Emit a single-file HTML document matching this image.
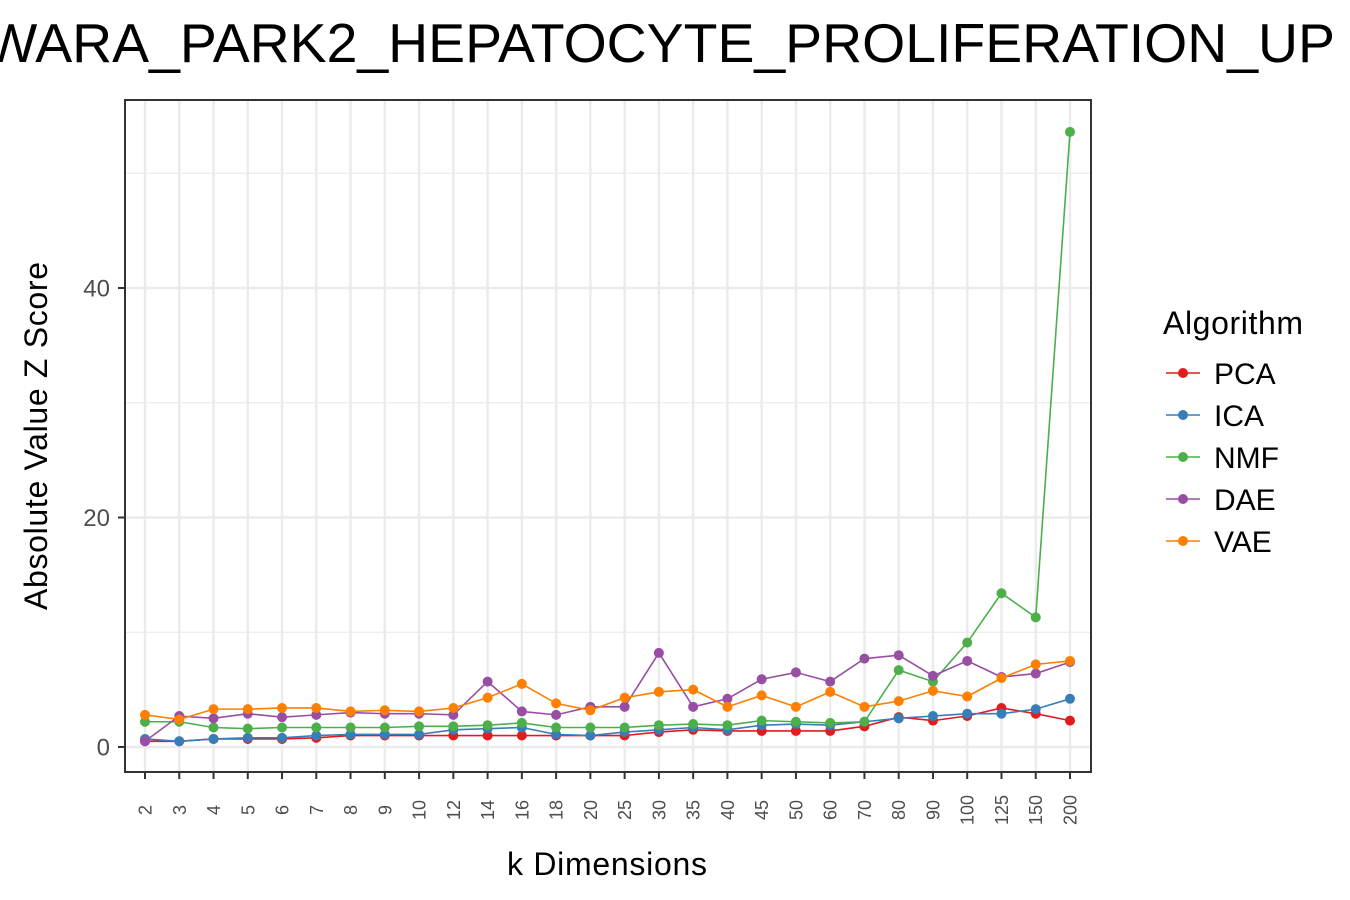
<!DOCTYPE html>
<html><head><meta charset="utf-8"><style>
html,body{margin:0;padding:0;background:#fff;overflow:hidden;}
svg{display:block;font-family:"Liberation Sans",Arial,sans-serif;}
</style></head><body>
<svg id="chart" width="1350" height="900">
<text x="660" y="62" text-anchor="middle" font-size="55" textLength="1350" lengthAdjust="spacingAndGlyphs" fill="#000">WARA_PARK2_HEPATOCYTE_PROLIFERATION_UP</text>
<g id="grid"></g>
<g id="series"></g>
<rect x="125" y="100" width="966" height="672" fill="none" stroke="#333" stroke-width="2"/>
<g id="axes"></g>
<text x="607" y="875" text-anchor="middle" font-size="32" textLength="200" fill="#000">k Dimensions</text>
<text transform="translate(47,436) rotate(-90)" text-anchor="middle" font-size="32" textLength="348" fill="#000">Absolute Value Z Score</text>
<g id="legend">
<text x="1163" y="334" font-size="32" textLength="140" fill="#000">Algorithm</text>
</g>
</svg>
<script>
const categories=["2","3","4","5","6","7","8","9","10","12","14","16","18","20","25","30","35","40","45","50","60","70","80","90","100","125","150","200"];
const yTicks=[0,20,40];
const seriesNames=["PCA","ICA","NMF","DAE","VAE"];
const seriesColors=["#e41a1c","#377eb8","#4daf4a","#984ea3","#ff7f00"];
const pcaValues=[0.5,0.5,0.7,0.7,0.7,0.8,1.0,1.0,1.0,1.0,1.0,1.0,1.0,1.0,1.0,1.3,1.5,1.4,1.4,1.4,1.4,1.8,2.6,2.3,2.7,3.4,2.9,2.3];
const icaValues=[0.7,0.5,0.7,0.8,0.8,1.0,1.1,1.1,1.1,1.5,1.6,1.7,1.1,1.0,1.3,1.5,1.7,1.5,1.9,2.0,1.9,2.2,2.5,2.7,2.9,2.9,3.3,4.2];
const nmfValues=[2.2,2.2,1.7,1.6,1.7,1.7,1.7,1.7,1.8,1.8,1.9,2.1,1.7,1.7,1.7,1.9,2.0,1.9,2.3,2.2,2.1,2.2,6.7,5.7,9.1,13.4,11.3,53.6];
const daeValues=[0.5,2.7,2.5,2.9,2.6,2.8,3.0,2.9,2.9,2.8,5.7,3.1,2.8,3.5,3.5,8.2,3.5,4.2,5.9,6.5,5.7,7.7,8.0,6.2,7.5,6.1,6.4,7.4];
const vaeValues=[2.8,2.4,3.3,3.3,3.4,3.4,3.1,3.2,3.1,3.4,4.3,5.5,3.8,3.2,4.3,4.8,5.0,3.5,4.5,3.5,4.8,3.5,4.0,4.9,4.4,6.0,7.2,7.5];
const allSeries=[pcaValues,icaValues,nmfValues,daeValues,vaeValues];

const NS="http://www.w3.org/2000/svg";
function xs(i){return 145+i*(1070-145)/(categories.length-1);}
function ys(v){return 747-v*(747-288)/40;}
function mk(tag,attrs,parent){const e=document.createElementNS(NS,tag);for(const k in attrs)e.setAttribute(k,attrs[k]);parent.appendChild(e);return e;}
const grid=document.getElementById('grid'),axes=document.getElementById('axes'),ser=document.getElementById('series'),leg=document.getElementById('legend');
for(let v=-10;v<=60;v+=20){const y=ys(v);if(y>100&&y<772){const l=mk('line',{x1:125,x2:1091,y1:y,y2:y,stroke:'#ebebeb','stroke-width':1.2},grid);

}}
for(let v=0;v<=60;v+=20){const y=ys(v);if(y>100){const l=mk('line',{x1:125,x2:1091,y1:y,y2:y,stroke:'#ebebeb','stroke-width':2.4},grid);

}}
categories.forEach((c,i)=>{const x=xs(i);
const l=mk('line',{x1:x,x2:x,y1:100,y2:772,stroke:'#ebebeb','stroke-width':2.4},grid);


const t=mk('line',{x1:x,x2:x,y1:772,y2:779,stroke:'#333','stroke-width':2},axes);


const tx=mk('text',{transform:`translate(${x+6.5},810) rotate(-90)`,'text-anchor':'middle','font-size':18,fill:'#4d4d4d'},axes);
tx.textContent=c;


});
yTicks.forEach(v=>{const y=ys(v);
const t=mk('line',{x1:118,x2:125,y1:y,y2:y,stroke:'#333','stroke-width':2},axes);


const tx=mk('text',{x:110,y:y+8.5,'text-anchor':'end','font-size':24,fill:'#4d4d4d'},axes);
tx.textContent=v;


});
allSeries.forEach((vals,s)=>{
const g=mk('g',{},ser);


const pl=mk('polyline',{points:vals.map((v,i)=>xs(i)+','+ys(v)).join(' '),fill:'none',stroke:seriesColors[s],'stroke-width':1.6},g);


vals.forEach((v,i)=>{const c=mk('circle',{cx:xs(i),cy:ys(v),r:5,fill:seriesColors[s]},g);

});
const ly=373+s*42;
const le=mk('g',{},leg);


mk('line',{x1:1166,x2:1200,y1:ly,y2:ly,stroke:seriesColors[s],'stroke-width':1.6},le);
mk('circle',{cx:1183,cy:ly,r:5,fill:seriesColors[s]},le);
const lt=mk('text',{x:1214,y:ly+11,'font-size':30,fill:'#000'},le);
lt.textContent=seriesNames[s];


});
</script>
</body></html>
